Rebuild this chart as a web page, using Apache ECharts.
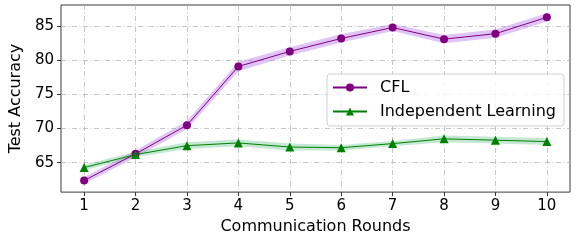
<!DOCTYPE html>
<html>
<head>
<meta charset="utf-8">
<script src="https://cdn.jsdelivr.net/npm/echarts@6/dist/echarts.min.js"></script>
<style>
  html, body { margin: 0; padding: 0; background: #fff; }
  #chart { width: 577px; height: 240px; }
</style>
</head>
<body>
<div id="chart"></div>
<script>
// rounds on the x axis
const rounds = [1, 2, 3, 4, 5, 6, 7, 8, 9, 10];
// mean test accuracy
const cflAcc = [62.4, 66.3, 70.5, 79.1, 81.3, 83.2, 84.8, 83.1, 83.9, 86.3];
const indepAcc = [64.3, 66.2, 67.5, 67.9, 67.3, 67.2, 67.8, 68.5, 68.3, 68.1];
// half width of the shaded band around each line
const cflSpread = [0.5, 0.5, 0.6, 0.7, 0.6, 0.6, 0.5, 0.6, 0.6, 0.6];
const indepSpread = [0.4, 0.4, 0.5, 0.5, 0.5, 0.4, 0.4, 0.5, 0.5, 0.5];
// tick labels
const yTicks = [65, 70, 75, 80, 85];
const xTicks = [1, 2, 3, 4, 5, 6, 7, 8, 9, 10];

const FONT = 'DejaVu Sans';

function pairs(xs, ys) {
  return xs.map((x, i) => [x, ys[i]]);
}

// band rows: [x, low, high]
function bandRows(xs, ys, sp) {
  return xs.map((x, i) => [x, ys[i] - sp[i], ys[i] + sp[i]]);
}

// draws the whole band as one polygon, on the first item only
function bandRenderer(rows, color) {
  return function (params, api) {
    if (params.dataIndex !== 0) return null;
    const top = rows.map(r => api.coord([r[0], r[2]]));
    const bottom = rows.map(r => api.coord([r[0], r[1]])).reverse();
    return {
      type: 'polygon',
      shape: { points: top.concat(bottom) },
      style: { fill: color },
      silent: true
    };
  };
}

const cflBand = bandRows(rounds, cflAcc, cflSpread);
const indepBand = bandRows(rounds, indepAcc, indepSpread);

const myChart = echarts.init(document.getElementById('chart'));

const gridLine = {
  show: true,
  lineStyle: { color: '#b8b8b8', width: 0.8, type: [5, 2.5, 1, 2.5] }
};

var option = {
  animation: false,
  grid: {
    left: 61, right: 7, top: 5, bottom: 45,
    show: true, borderColor: '#3a3a3a', borderWidth: 1, backgroundColor: 'transparent'
  },
  xAxis: {
    type: 'value',
    min: 0.55,
    max: 10.45,
    name: 'Communication Rounds',
    nameLocation: 'middle',
    nameGap: 24,
    nameTextStyle: { fontFamily: FONT, fontSize: 16, color: '#000' },
    axisLine: { show: false },
    axisTick: { show: true, customValues: xTicks, length: 4, lineStyle: { color: '#333' } },
    axisLabel: { customValues: xTicks, margin: 7, fontFamily: FONT, fontSize: 15, color: '#000' },
    splitLine: gridLine
  },
  yAxis: {
    type: 'value',
    min: 60.7,
    max: 88.1,
    name: 'Test Accuracy',
    nameLocation: 'middle',
    nameGap: 29,
    nameTextStyle: { fontFamily: FONT, fontSize: 16, color: '#000' },
    axisLine: { show: false },
    axisTick: { show: true, customValues: yTicks, length: 4, lineStyle: { color: '#333' } },
    axisLabel: { customValues: yTicks, margin: 7, fontFamily: FONT, fontSize: 15, color: '#000' },
    splitLine: gridLine
  },
  legend: {
    data: ['CFL', 'Independent Learning'],
    orient: 'vertical',
    left: 327,
    top: 74,
    padding: [5, 8, 6, 5],
    itemWidth: 34,
    itemHeight: 10,
    itemGap: 7,
    backgroundColor: 'rgba(255,255,255,0.8)',
    borderColor: '#d0d0d0',
    borderWidth: 1,
    borderRadius: 3,
    textStyle: { fontFamily: FONT, fontSize: 16, color: '#000', lineHeight: 17, padding: [0, 0, 0, 8] }
  },
  series: [
    {
      name: 'cflBand', type: 'custom', silent: true, z: 1,
      renderItem: bandRenderer(cflBand, 'rgba(170, 100, 230, 0.38)'),
      encode: { x: 0, y: [1, 2] },
      data: cflBand
    },
    {
      name: 'indepBand', type: 'custom', silent: true, z: 1,
      renderItem: bandRenderer(indepBand, 'rgba(60, 180, 110, 0.3)'),
      encode: { x: 0, y: [1, 2] },
      data: indepBand
    },
    {
      name: 'CFL', type: 'line', symbol: 'circle', symbolSize: 8,
      itemStyle: { color: '#800080' }, lineStyle: { color: '#800080', width: 1 },
      data: pairs(rounds, cflAcc), z: 3
    },
    {
      name: 'Independent Learning', type: 'line', symbol: 'triangle', symbolSize: 9,
      itemStyle: { color: '#008000' }, lineStyle: { color: '#008000', width: 1 },
      data: pairs(rounds, indepAcc), z: 3
    }
  ]
};

myChart.setOption(option);
window.addEventListener('resize', function () {
  myChart.resize();
});
</script>
</body>
</html>
